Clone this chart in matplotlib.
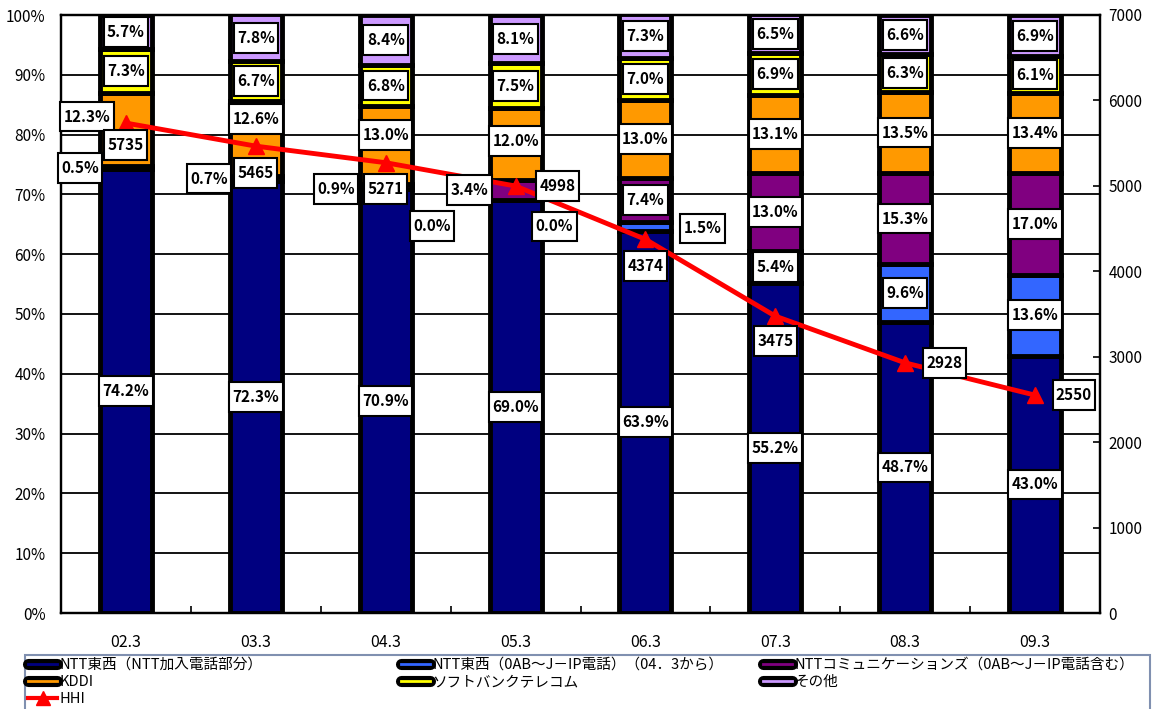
import numpy as np
import matplotlib
matplotlib.use("Agg")
import matplotlib.pyplot as plt
from matplotlib.lines import Line2D
from matplotlib.legend_handler import HandlerTuple
from matplotlib.patches import Rectangle
from matplotlib.path import Path

plt.rcParams['font.family'] = ['Noto Sans CJK JP', 'DejaVu Sans']

# ---- data -------------------------------------------------------------
periods = ["02.3", "03.3", "04.3", "05.3", "06.3", "07.3", "08.3", "09.3"]

ntt_fixed = [74.2, 72.3, 70.9, 69.0, 63.9, 55.2, 48.7, 43.0]
ntt_ip = [None, None, 0.0, 0.0, 1.5, 5.4, 9.6, 13.6]
ntt_com = [0.5, 0.7, 0.9, 3.4, 7.4, 13.0, 15.3, 17.0]
kddi = [12.3, 12.6, 13.0, 12.0, 13.0, 13.1, 13.5, 13.4]
softbank = [7.3, 6.7, 6.8, 7.5, 7.0, 6.9, 6.3, 6.1]
others = [5.7, 7.8, 8.4, 8.1, 7.3, 6.5, 6.6, 6.9]
hhi = [5735, 5465, 5271, 4998, 4374, 3475, 2928, 2550]

series_names = [
    "NTT東西（NTT加入電話部分）",
    "NTT東西（0AB～J－IP電話）（04．3から）",
    "NTTコミュニケーションズ（0AB～J－IP電話含む）",
    "KDDI",
    "ソフトバンクテレコム",
    "その他",
]
hhi_name = "HHI"

# ---- styling ----------------------------------------------------------
colors = ["#000080", "#3366FF", "#800080", "#FF9900", "#FFFF00", "#CC99FF"]
bar_width = 0.4
W, H = 1164, 709

# label nudges in pixels (dx, dy), keyed by (series index, period index)
label_nudge = {
    (2, 0): (-46, 0), (3, 0): (-39, 13),
    (2, 1): (-47, 0), (3, 1): (0, 20),
    (1, 2): (46, -37), (2, 2): (-50, -3), (3, 2): (0, 10),
    (1, 3): (39, -26), (2, 3): (-46, 0), (3, 3): (0, 3),
    (1, 4): (57, -2),
}
hhi_nudge = [(0, -22), (0, -27), (0, -26), (42, 0),
             (0, -27), (0, -25), (39, 0), (39, 0)]


def tall_box(x0, y0, width, height, mutation_size):
    """Rectangular label frame with more padding above/below than at the sides."""
    px, py = 0.22 * mutation_size, 0.45 * mutation_size
    xs0, xs1 = x0 - px, x0 + width + px
    ys0, ys1 = y0 - py, y0 + height + py
    return Path([(xs0, ys0), (xs1, ys0), (xs1, ys1), (xs0, ys1), (xs0, ys0)],
                closed=True)


box = dict(boxstyle=tall_box, fc="white", ec="black", lw=1.5)
label_font = dict(fontsize=11, fontweight="bold", color="black")

fig = plt.figure(figsize=(W / 100, H / 100), dpi=100)
ax = fig.add_axes([61 / W, 1 - 613 / H, (1100 - 61) / W, (613 - 15) / H])
ax2 = ax.twinx()

x = np.arange(len(periods))
series = [ntt_fixed, ntt_ip, ntt_com, kddi, softbank, others]

bottom = np.zeros(len(periods))
centers = []
for si, (vals, col) in enumerate(zip(series, colors)):
    v = np.array([0.0 if s is None else s for s in vals])
    ax.bar(x, v, width=bar_width, bottom=bottom, color=col,
           edgecolor="black", linewidth=3.5, zorder=3)
    centers.append(bottom + v / 2)
    bottom = bottom + v

ax.set_xlim(-0.5, len(periods) - 0.5)
ax.set_ylim(0, 100)
ax.set_yticks(np.arange(0, 101, 10))
ax.set_yticklabels([f"{t}%" for t in range(0, 101, 10)])
ax.yaxis.grid(True, color="black", linewidth=1.3, zorder=0)
ax.set_axisbelow(True)
ax.set_xticks(x)
ax.set_xticklabels(periods)
ax.set_xticks(np.arange(0.5, len(periods) - 0.5, 1), minor=True)
ax.tick_params(axis="x", which="major", length=0, pad=15, labelsize=11.5)
ax.tick_params(axis="x", which="minor", direction="in", length=5, width=1.2)
ax.tick_params(axis="y", length=0, pad=11, labelsize=11)

ax2.set_ylim(0, 7000)
ax2.set_yticks(np.arange(0, 7001, 1000))
ax2.tick_params(axis="y", direction="in", length=5, width=1.2, pad=6, labelsize=11)

for a in (ax, ax2):
    for sp in a.spines.values():
        sp.set_linewidth(1.6)
        sp.set_color("black")

# HHI line on the secondary axis
ax2.plot(x, hhi, color="#FF0000", linewidth=3.5, marker="^",
         markersize=12, zorder=4)

# value labels (drawn above the HHI line)
for si, vals in enumerate(series):
    for pi, v in enumerate(vals):
        if v is None:
            continue
        dx, dy = label_nudge.get((si, pi), (0, 0))
        ax2.annotate(f"{v:.1f}%", xy=(x[pi], centers[si][pi]),
                     xycoords=ax.transData, xytext=(dx, dy),
                     textcoords="offset pixels", ha="center", va="center",
                     bbox=box, zorder=6, **label_font)

for pi, h in enumerate(hhi):
    dx, dy = hhi_nudge[pi]
    ax2.annotate(f"{h}", xy=(x[pi], h), xytext=(dx, dy),
                 textcoords="offset pixels", ha="center", va="center",
                 bbox=box, zorder=6, **label_font)


# legend: three columns placed individually inside one shared frame
def swatch(col):
    return (Line2D([], [], color="black", linewidth=8, solid_capstyle="round"),
            Line2D([], [], color=col, linewidth=2))


all_handles = [swatch(c) for c in colors] + [
    Line2D([], [], color="#FF0000", linewidth=3, marker="^", markersize=10)]
all_labels = series_names + [hhi_name]
columns = [([0, 3, 6], 28), ([1, 4], 401), ([2, 5], 763)]

fig.add_artist(Rectangle((25 / W, 1 - 725 / H), 1125 / W, 70 / H,
                         transform=fig.transFigure, fill=False,
                         edgecolor="#8090B0", linewidth=1.5))
for idx, xpix in columns:
    fig.legend([all_handles[i] for i in idx], [all_labels[i] for i in idx],
               loc="upper left", bbox_to_anchor=(xpix / W, 1 - 658 / H),
               handler_map={tuple: HandlerTuple(ndivide=1)},
               fontsize=10.5, handlelength=2.0, handletextpad=0.15,
               labelspacing=0.2, borderpad=0, borderaxespad=0,
               frameon=False)

fig.savefig("out.png", dpi=100)
